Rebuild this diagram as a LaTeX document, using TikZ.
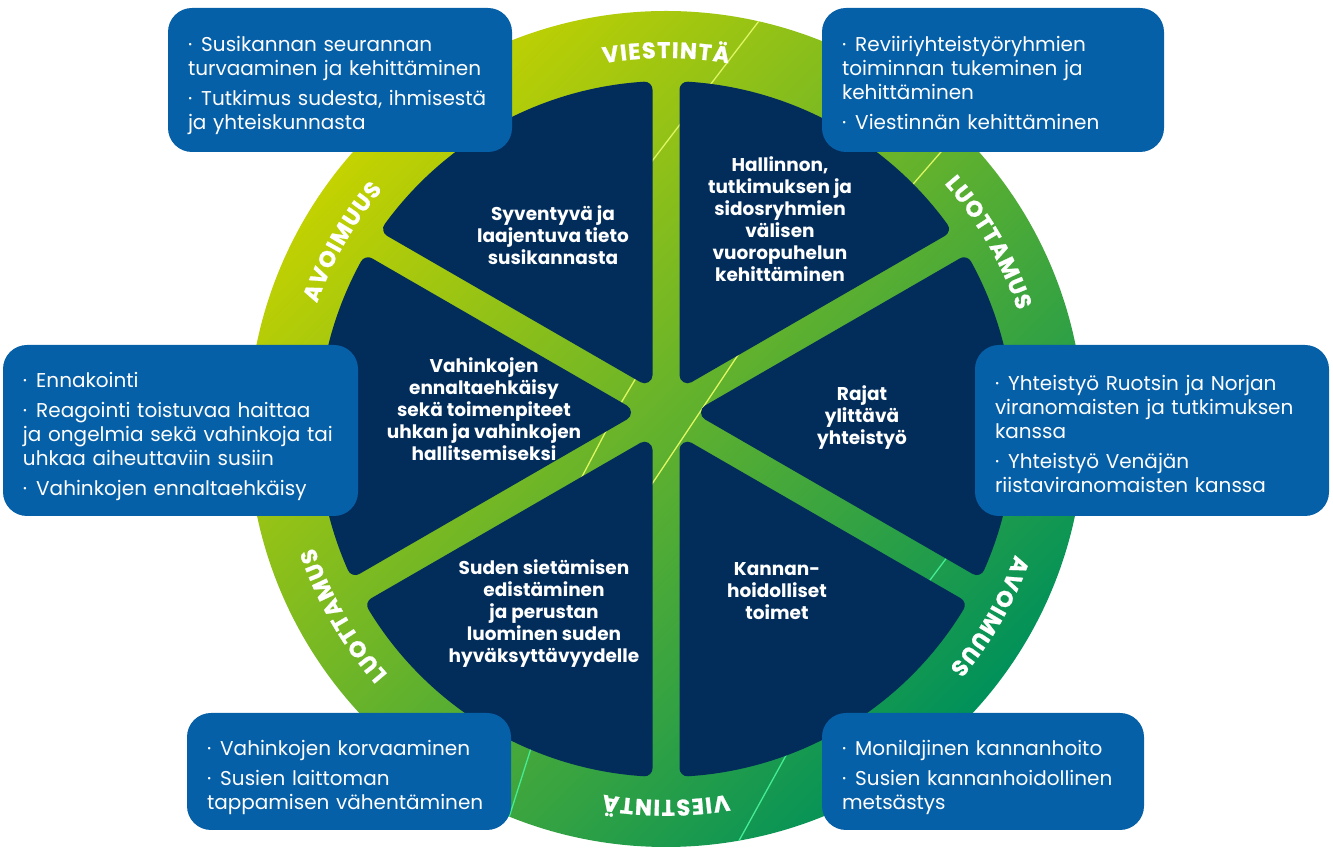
\documentclass[tikz,border=0pt]{standalone}
\usepackage{fontspec}
\setmainfont{Poppins}
\newfontfamily\ringface{Poppins}[FakeBold=1]
\usetikzlibrary{decorations.text}

\definecolor{navy}{RGB}{2,45,91}
\definecolor{boxblue}{RGB}{6,96,168}
\definecolor{ringtop}{RGB}{196,210,0}
\definecolor{ringmid}{RGB}{90,180,45}
\definecolor{ringlow}{RGB}{0,145,90}
\definecolor{streakhi}{RGB}{222,245,100}
\definecolor{streaklo}{RGB}{70,235,150}
\newcommand{\bul}{·\hspace{0.45em}}
\newcommand{\ringfont}{\ringface\fontsize{22.5}{22.5}\selectfont\bfseries}

\begin{document}
\begin{tikzpicture}
  [x=1pt,y=1pt,
   box/.style={rounded corners=24pt,fill=boxblue,text=white,align=left,
     inner xsep=20pt,inner ysep=0pt,font=\fontsize{20}{24}\selectfont,
     execute at begin node=\rule{0pt}{29pt},execute at end node=\rule[-7pt]{0pt}{7pt}},
   topic/.style={text=white,align=center,font=\fontsize{18.5}{22}\selectfont\bfseries},
   streak/.style={line width=1.3pt}]

  \useasboundingbox (0,0) rectangle (1333,848);
  \coordinate (c) at (666,419);
  \coordinate (h) at (666,435.5);

  \shade[top color=ringtop,middle color=ringmid,bottom color=ringlow,shading angle=45]
    (c) circle[radius=418];

  % thin light streaks
  \begin{scope}
    \clip (c) circle[radius=418];
    \foreach \ax/\ay/\bx/\by/\col in
    {775/848/630/658/streakhi, 760/526/640/346/streakhi, 645/485/612/430/streakhi,
     615/434/575/358/streakhi, 800/118/735/0/streaklo, 540/128/505/18/streaklo,
     960/718/895/643/streakhi, 960/308/915/248/streaklo}
      \draw[streak,\col] (\ax,\ay) -- (\bx,\by);
  \end{scope}

  % dark sectors between the spokes
  \foreach \m in {0,60,...,300}{
    \pgfmathsetmacro\dx{0.43*cos(\m)}
    \pgfmathsetmacro\dy{0.165+0.43*sin(\m)}
    \pgfmathsetmacro\bA{\dx*cos(\m-30)+\dy*sin(\m-30)}
    \pgfmathsetmacro\bB{\dx*cos(\m+30)+\dy*sin(\m+30)}
    \pgfmathsetmacro\cc{\dx*\dx+\dy*\dy-3.4*3.4}
    \pgfmathsetmacro\tA{-\bA+sqrt(\bA*\bA-\cc)}
    \pgfmathsetmacro\tB{-\bB+sqrt(\bB*\bB-\cc)}
    \pgfmathsetmacro\thA{atan2(\dy+\tA*sin(\m-30),\dx+\tA*cos(\m-30))}
    \pgfmathsetmacro\thB{atan2(\dy+\tB*sin(\m+30),\dx+\tB*cos(\m+30))}
    \pgfmathsetmacro\thB{\thA+mod(\thB-\thA+720,360)}
    \filldraw[navy,line width=16pt,line join=round]
      ([shift={(h)}]\m:43) -- ([shift={(c)}]\thA:340)
      arc[start angle=\thA,end angle=\thB,radius=340] -- cycle;
  }

  % words on the ring
  \foreach \a/\lbl in {90/VIESTINTÄ,30/LUOTTAMUS,-30/AVOIMUUS,-90/VIESTINTÄ,-150/LUOTTAMUS,150/AVOIMUUS}
    \path[shift={(c)},decorate,decoration={text effects along path,text/.expanded=\lbl,
      text align=center,text effects/.cd,text along path,
      characters={text=white,font=\ringfont,inner sep=0pt,anchor=base},
      character widths={font=\ringfont,inner xsep=0.6pt,inner ysep=0pt}}]
      (\a+30:371) arc[start angle=\a+30,end angle=\a-30,radius=371];

  \node[topic] (tieto) at (553,613) {Syventyvä ja\\laajentuva tieto\\susikannasta};
  \node[topic] (vuoropuhelu) at (780,629) {Hallinnon,\\tutkimuksen ja\\sidosryhmien\\välisen\\vuoropuhelun\\kehittäminen};
  \node[topic] (rajat) at (862,430) {Rajat\\ylittävä\\yhteistyö};
  \node[topic] (kannanhoito) at (777,257) {Kannan-\\hoidolliset\\toimet};
  \node[topic] (sietaminen) at (544,234) {Suden sietämisen\\edistäminen\\ja perustan\\luominen suden\\hyväksyttävyydelle};
  \node[topic] (vahingot) at (484,439) {Vahinkojen\\ennaltaehkäisy\\sekä toimenpiteet\\uhkan ja vahinkojen\\hallitsemiseksi};

  \node[box,text width=304pt,minimum height=144pt] (seuranta) at (340,768)
    {\bul Susikannan seurannan\\turvaaminen ja kehittäminen\\[6pt]\bul Tutkimus sudesta, ihmisestä\\ja yhteiskunnasta};
  \node[box,text width=302pt,minimum height=144pt] (reviirit) at (993,768)
    {\bul Reviiriyhteistyöryhmien\\toiminnan tukeminen ja\\kehittäminen\\[6pt]\bul Viestinnän kehittäminen};
  \node[box,text width=315pt,minimum height=171pt] (ennakointi) at (180.5,417.5)
    {\bul Ennakointi\\[6pt]\bul Reagointi toistuvaa haittaa\\ja ongelmia sekä vahinkoja tai\\uhkaa aiheuttaviin susiin\\[6pt]\bul Vahinkojen ennaltaehkäisy};
  \node[box,text width=314pt,minimum height=171pt] (yhteistyo) at (1152,417.5)
    {\bul Yhteistyö Ruotsin ja Norjan\\viranomaisten ja tutkimuksen\\kanssa\\[6pt]\bul Yhteistyö Venäjän\\riistaviranomaisten kanssa};
  \node[box,text width=284pt,minimum height=117pt] (korvaus) at (349,76.5)
    {\bul Vahinkojen korvaaminen\\[6pt]\bul Susien laittoman\\tappamisen vähentäminen};
  \node[box,text width=282pt,minimum height=117pt] (metsastys) at (983,76.5)
    {\bul Monilajinen kannanhoito\\[6pt]\bul Susien kannanhoidollinen\\metsästys};
\end{tikzpicture}
\end{document}
